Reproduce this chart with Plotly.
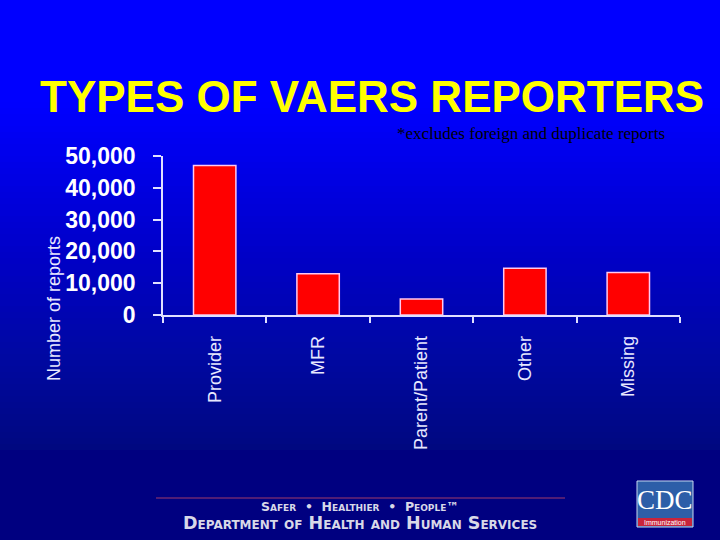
import plotly.graph_objects as go

categories = ["Provider", "MFR", "Parent/Patient", "Other", "Missing"]
reports = [47000, 13000, 5000, 14700, 13400]
y_ticks = [0, 10000, 20000, 30000, 40000, 50000]
y_tick_labels = ["0", "10,000", "20,000", "30,000", "40,000", "50,000"]
title_text = "TYPES OF VAERS REPORTERS"
subtitle_text = "*excludes foreign and duplicate reports"
y_title = "Number of reports"
footer_line1 = "Safer • Healthier • People™"
footer_line2 = "Department of Health and Human Services"

W, H = 720, 540
L, R, T, B = 163, 40, 156, 225
PW = W - L - R
PH = H - T - B


def px(xp):
    return (xp - L) / PW


def py(yp):
    return (H - B - yp) / PH


fig = go.Figure()
fig.add_trace(go.Bar(
    x=categories, y=reports,
    marker=dict(color="#ff0000", line=dict(color="#ffc8f0", width=1.5)),
    width=0.41,
))

shapes = []
# background gradient
n = 90
for i in range(n):
    y0 = H * i / n
    y1 = H * (i + 1) / n + 0.6
    ym = (y0 + y1) / 2
    if ym < 105:
        b = 255
    elif ym > 450:
        b = 128
    else:
        b = 255 - (255 - 128) * (ym - 105) / (450 - 105)
    g = 0 if ym < 250 else int(8 * min(1, (ym - 250) / 100)) if ym < 450 else 0
    shapes.append(dict(type="rect", xref="paper", yref="paper",
                       x0=px(0), x1=px(W), y0=py(y1), y1=py(y0),
                       fillcolor=f"rgb(0,{g},{int(b)})", line=dict(width=0), layer="below"))

# footer line
shapes.append(dict(type="line", xref="paper", yref="paper",
                   x0=px(156), x1=px(565), y0=py(498), y1=py(498),
                   line=dict(color="#a03a6a", width=1)))
# CDC logo
shapes.append(dict(type="rect", xref="paper", yref="paper",
                   x0=px(637), x1=px(693), y0=py(527), y1=py(481),
                   fillcolor="#2d5ea8", line=dict(color="#c8d8f0", width=1)))
shapes.append(dict(type="rect", xref="paper", yref="paper",
                   x0=px(638), x1=px(692), y0=py(526), y1=py(518),
                   fillcolor="#c8243c", line=dict(width=0)))

NB = "\u00a0"
line1 = footer_line1.replace(" • ", NB * 2 + "•" + NB * 2)

annotations = [
    dict(text=title_text, x=px(372), y=py(96), xref="paper", yref="paper",
         showarrow=False, xanchor="center", yanchor="middle",
         font=dict(family="Liberation Sans, Arial", size=44, color="#ffff00", weight="bold")),
    dict(text=subtitle_text, x=px(395), y=py(133), xref="paper", yref="paper",
         showarrow=False, xanchor="left", yanchor="middle",
         font=dict(family="Liberation Serif, Times New Roman", size=17, color="#000000")),
    dict(text=y_title, x=px(54), y=py(309), xref="paper", yref="paper",
         showarrow=False, xanchor="center", yanchor="middle", textangle=-90,
         font=dict(family="Liberation Sans, Arial", size=18, color="#e8e8ff")),
    dict(text=line1,
         x=px(360), y=py(507), xref="paper", yref="paper",
         showarrow=False, xanchor="center", yanchor="middle",
         font=dict(family="DejaVu Sans", size=12.5, color="#d8d8e8", weight="bold",
                   variant="small-caps")),
    dict(text=footer_line2,
         x=px(360), y=py(523), xref="paper", yref="paper",
         showarrow=False, xanchor="center", yanchor="middle",
         font=dict(family="DejaVu Sans", size=17.5, color="#d8d8e8", weight="bold",
                   variant="small-caps")),
    dict(text="CDC", x=px(665), y=py(500), xref="paper", yref="paper",
         showarrow=False, xanchor="center", yanchor="middle",
         font=dict(family="Liberation Serif, Times New Roman", size=27, color="#ffffff")),
    dict(text="Immunization", x=px(665), y=py(522), xref="paper", yref="paper",
         showarrow=False, xanchor="center", yanchor="middle",
         font=dict(family="Liberation Sans, Arial", size=7, color="#ffffff")),
]

fig.update_layout(
    width=W, height=H,
    margin=dict(l=L, r=R, t=T, b=B, pad=0),
    paper_bgcolor="#000080",
    plot_bgcolor="rgba(0,0,0,0)",
    showlegend=False,
    bargap=0.59,
    shapes=shapes,
    annotations=annotations,
    xaxis=dict(
        type="category", range=[-0.5, 4.5],
        showline=True, linecolor="#e0e0ff", linewidth=1.5,
        ticks="outside", tickson="boundaries", ticklen=6, tickcolor="#e0e0ff", tickwidth=1.5,
        tickangle=-90, ticklabelstandoff=12,
        tickfont=dict(family="Liberation Sans, Arial", size=18, color="#e8e8ff"),
        showgrid=False, zeroline=False,
    ),
    yaxis=dict(
        range=[0, 50000],
        tickvals=y_ticks, ticktext=y_tick_labels,
        showline=True, linecolor="#e0e0ff", linewidth=1.5,
        ticks="outside", ticklen=8, tickcolor="#e0e0ff", tickwidth=1.5,
        ticklabelstandoff=13,
        tickfont=dict(family="Liberation Sans, Arial", size=23,
                      color="#ffffff", weight="bold"),
        showgrid=False, zeroline=False,
    ),
)

fig.write_html("out.html", config={"displayModeBar": False},
               post_script="document.body.style.margin='0';document.body.style.overflow='hidden';")
